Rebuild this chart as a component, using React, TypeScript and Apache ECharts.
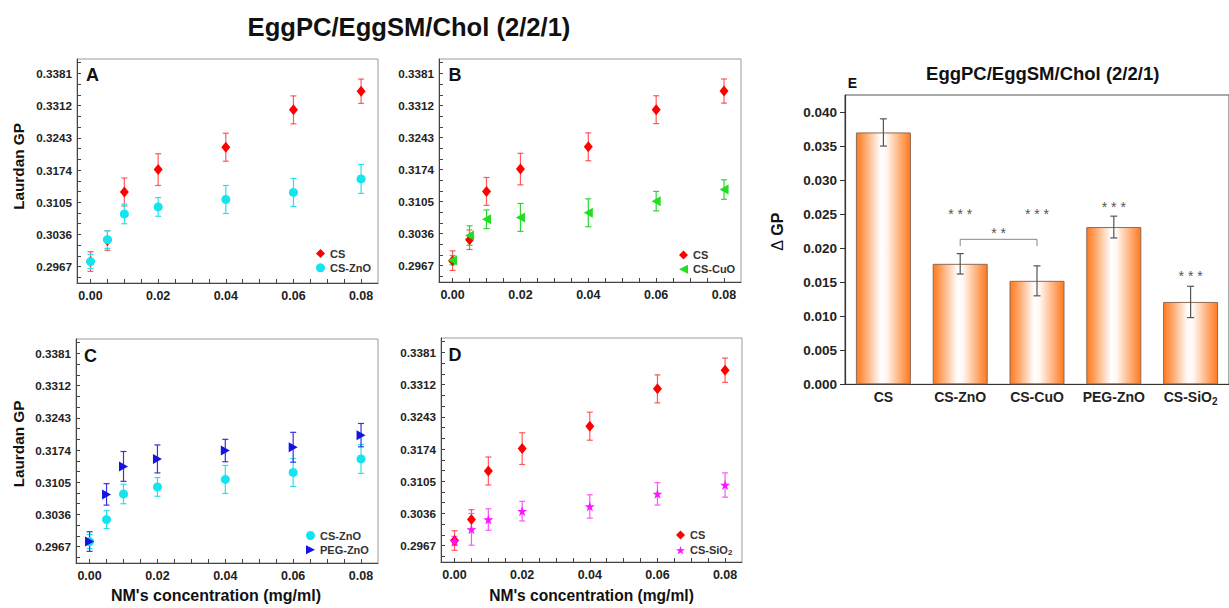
import React, { useEffect, useRef } from 'react';
import * as echarts from 'echarts';

const FONT = "'Liberation Sans', Arial, Helvetica, sans-serif";

// ---------- Panels A–D : Laurdan GP vs NM concentration ----------
const conc = [0, 0.005, 0.01, 0.02, 0.04, 0.06, 0.08];
const csGP = [0.2978, 0.3023, 0.3127, 0.3175, 0.3223, 0.3303, 0.3343];
const csErr = [0.0021, 0.0021, 0.003, 0.0034, 0.003, 0.003, 0.0026];
const csZnoGP = [0.2978, 0.3025, 0.308, 0.3095, 0.3111, 0.3126, 0.3155];
const csZnoErr = [0.0015, 0.0019, 0.0021, 0.002, 0.003, 0.003, 0.0031];
const csCuoGP = [0.2979, 0.3032, 0.3067, 0.3071, 0.3081, 0.3106, 0.3131];
const csCuoErr = [0.001, 0.0021, 0.002, 0.003, 0.003, 0.0021, 0.0021];
const pegZnoGP = [0.2978, 0.3079, 0.3139, 0.3155, 0.3173, 0.318, 0.3206];
const pegZnoErr = [0.0021, 0.0023, 0.0032, 0.003, 0.0024, 0.0032, 0.0025];
const csSio2GP = [0.2977, 0.3002, 0.3023, 0.3041, 0.3051, 0.3078, 0.3097];
const csSio2Err = [0.001, 0.0034, 0.0023, 0.0021, 0.0025, 0.0024, 0.0026];

const gpTicks = [0.2967, 0.3036, 0.3105, 0.3174, 0.3243, 0.3312, 0.3381];
const gpMinorTicks = [0.2944, 0.299, 0.3013, 0.3059, 0.3082, 0.3128, 0.3151, 0.3197, 0.322, 0.3266, 0.3289, 0.3335, 0.3358, 0.3404];
const concTicks = [0, 0.02, 0.04, 0.06, 0.08];
const concMinorTicks = [0.005, 0.01, 0.015, 0.025, 0.03, 0.035, 0.045, 0.05, 0.055, 0.065, 0.07, 0.075];

// ---------- Panel E : ΔGP bars ----------
const barCats = ['CS', 'CS-ZnO', 'CS-CuO', 'PEG-ZnO', 'CS-SiO2'];
const dGP = [0.037, 0.0177, 0.0152, 0.0231, 0.0121];
const dGPErr = [0.002, 0.0015, 0.0022, 0.0016, 0.0023];
const sigMarks = ['', '* * *', '* * *', '* * *', '* * *'];
const sigLevel = [0, 0.0255, 0.0255, 0.0265, 0.0163];
const bracketPairs = [[1, 2]];
const bracketLevel = [0.0213];
const bracketDrop = [0.001];
const bracketMark = ['* *'];
const bracketMarkLevel = [0.0227];
const dGPTicks = [0, 0.005, 0.01, 0.015, 0.02, 0.025, 0.03, 0.035, 0.04];

const X_MIN = -0.004, X_MAX = 0.085, Y_MIN = 0.2932, Y_MAX = 0.3412;

const TRI_LEFT = 'path://M0,50 L100,0 L100,100 Z';
const TRI_RIGHT = 'path://M0,0 L100,50 L0,100 Z';
const STAR = 'path://M50,0 L61.8,35.1 L98.9,35.1 L68.9,56.9 L80.3,91.9 L50,70.2 L19.7,91.9 L31.1,56.9 L1.1,35.1 L38.2,35.1 Z';

const seriesStyle: Record<string, any> = {
  'CS': { color: '#ff0000', err: 'rgba(255,30,30,0.72)', symbol: 'diamond', size: [9, 11] },
  'CS-ZnO': { color: '#14e4ee', err: '#28e2ea', symbol: 'circle', size: 9 },
  'CS-CuO': { color: '#22dd22', err: '#30d630', symbol: TRI_LEFT, size: [9, 10] },
  'PEG-ZnO': { color: '#1414e0', err: '#3434e0', symbol: TRI_RIGHT, size: [9, 10] },
  'CS-SiO2': { color: '#ff14ff', err: '#ff55ff', symbol: STAR, size: 10 },
};

const panels: any[] = [
  { grid: { left: 77, top: 59, width: 301, height: 224 }, sets: [['CS', csGP, csErr], ['CS-ZnO', csZnoGP, csZnoErr]], legend: { left: 316, top: 247 } },
  { grid: { left: 439, top: 59, width: 302, height: 223 }, sets: [['CS', csGP, csErr], ['CS-CuO', csCuoGP, csCuoErr]], legend: { left: 679, top: 248.5 } },
  { grid: { left: 76, top: 339, width: 302, height: 224 }, sets: [['CS-ZnO', csZnoGP, csZnoErr], ['PEG-ZnO', pegZnoGP, pegZnoErr]], legend: { left: 306, top: 529 } },
  { grid: { left: 441, top: 338, width: 301, height: 224 }, sets: [['CS', csGP, csErr], ['CS-SiO2', csSio2GP, csSio2Err]], legend: { left: 676, top: 528.5 } },
];

function errorRenderer(color: string, half: number, width: number) {
  return (params: any, api: any) => {
    const lo = api.coord([api.value(0), api.value(1)]);
    const hi = api.coord([api.value(0), api.value(2)]);
    const style = { stroke: color, lineWidth: width };
    return {
      type: 'group',
      children: [
        { type: 'line', shape: { x1: lo[0], y1: lo[1], x2: hi[0], y2: hi[1] }, style },
        { type: 'line', shape: { x1: lo[0] - half, y1: lo[1], x2: lo[0] + half, y2: lo[1] }, style },
        { type: 'line', shape: { x1: hi[0] - half, y1: hi[1], x2: hi[0] + half, y2: hi[1] }, style },
      ],
    };
  };
}

function buildOption() {
  const grid: any[] = [];
  const xAxis: any[] = [];
  const yAxis: any[] = [];
  const series: any[] = [];
  const legend: any[] = [];
  const allXTicks = [...concTicks, ...concMinorTicks].sort((a, b) => a - b);
  const allYTicks = [...gpTicks, ...gpMinorTicks].sort((a, b) => a - b);

  panels.forEach((p, i) => {
    grid.push({ ...p.grid, show: true, borderColor: '#9a9a9a', borderWidth: 1, backgroundColor: 'transparent' });
    xAxis.push({
      gridIndex: i, type: 'value', position: 'bottom', min: X_MIN, max: X_MAX,
      axisLine: { show: true, onZero: false, lineStyle: { color: '#444', width: 1 } },
      axisTick: { show: true, inside: true, length: 4, customValues: allXTicks, lineStyle: { color: '#444' } },
      axisLabel: { show: true, customValues: concTicks, formatter: (v: number) => v.toFixed(2), fontSize: 12.5, fontWeight: 'bold', color: '#222', margin: 6, fontFamily: FONT },
      splitLine: { show: false },
    });
    yAxis.push({
      gridIndex: i, type: 'value', position: 'left', min: Y_MIN, max: Y_MAX,
      axisLine: { show: true, onZero: false, lineStyle: { color: '#444', width: 1 } },
      axisTick: { show: true, inside: true, length: 4, customValues: allYTicks, lineStyle: { color: '#444' } },
      axisLabel: { show: true, customValues: gpTicks, formatter: (v: number) => v.toFixed(4), fontSize: 11.7, fontWeight: 'bold', color: '#222', margin: 5, fontFamily: FONT },
      splitLine: { show: false },
    });

    p.sets.forEach((s: any) => {
      const [name, vals, errs] = s;
      const st = seriesStyle[name];
      series.push({
        type: 'custom', name: name + ' error', xAxisIndex: i, yAxisIndex: i,
        data: conc.map((x, k) => [x, vals[k] - errs[k], vals[k] + errs[k]]),
        encode: { x: 0, y: [1, 2] },
        renderItem: errorRenderer(st.err, 3, 1.2), silent: true, z: 2,
      });
      series.push({
        type: 'scatter', name, xAxisIndex: i, yAxisIndex: i,
        data: conc.map((x, k) => [x, vals[k]]),
        symbol: st.symbol, symbolSize: st.size, itemStyle: { color: st.color, opacity: 1 },
        silent: true, z: 2,
      });
    });

    legend.push({
      left: p.legend.left, top: p.legend.top, orient: 'vertical', padding: 0, itemGap: 1.3,
      itemWidth: 9, itemHeight: 9, selectedMode: false,
      textStyle: { fontSize: 11, fontWeight: 'bold', color: '#333', lineHeight: 13, fontFamily: FONT,
        rich: { sub: { fontSize: 8, fontWeight: 'bold', color: '#333', lineHeight: 7, verticalAlign: 'bottom', padding: [6, 0, 0, 0], fontFamily: FONT } } },
      formatter: (name: string) => (name === 'CS-SiO2' ? 'CS-SiO{sub|2}' : name),
      data: p.sets.map((s: any) => ({ name: s[0], icon: seriesStyle[s[0]].symbol, itemStyle: { color: seriesStyle[s[0]].color } })),
    });
  });

  // Panel E
  grid.push({ left: 845, top: 95, width: 391, height: 289.3, show: true, borderColor: '#555', borderWidth: 1 });
  xAxis.push({
    gridIndex: 4, type: 'category', data: barCats,
    axisLine: { show: true, lineStyle: { color: '#333', width: 1.2 } },
    axisTick: { show: false },
    axisLabel: {
      interval: 0, hideOverlap: false,
      fontSize: 14, fontWeight: 'bold', color: '#222', margin: 3.4, lineHeight: 19, fontFamily: FONT,
      formatter: (v: string) => (v === 'CS-SiO2' ? 'CS-SiO{sub|2}' : v),
      rich: { sub: { fontSize: 10, fontWeight: 'bold', color: '#222', lineHeight: 10, verticalAlign: 'bottom', padding: [9, 0, 0, 0], fontFamily: FONT } },
    },
  });
  yAxis.push({
    gridIndex: 4, type: 'value', min: 0, max: 0.0425,
    axisLine: { show: true, lineStyle: { color: '#333', width: 1.2 } },
    axisTick: { show: true, inside: false, length: 5, customValues: dGPTicks, lineStyle: { color: '#333' } },
    axisLabel: { customValues: dGPTicks, formatter: (v: number) => v.toFixed(3), fontSize: 13.5, fontWeight: 'bold', color: '#222', margin: 8, fontFamily: FONT },
    splitLine: { show: false },
  });

  series.push({
    type: 'bar', name: 'ΔGP', xAxisIndex: 4, yAxisIndex: 4, data: dGP, barWidth: 55, silent: true,
    itemStyle: {
      color: new echarts.graphic.LinearGradient(0, 0, 1, 0, [
        { offset: 0, color: '#ff7a1f' },
        { offset: 0.12, color: '#ff9a55' },
        { offset: 0.45, color: '#ffffff' },
        { offset: 0.55, color: '#fff8f3' },
        { offset: 0.88, color: '#ff9a55' },
        { offset: 1, color: '#ff7a1f' },
      ]),
      borderColor: '#8d6a52', borderWidth: 1,
    },
  });
  series.push({
    type: 'custom', name: 'ΔGP error', xAxisIndex: 4, yAxisIndex: 4,
    data: dGP.map((v, i) => [i, v - dGPErr[i], v + dGPErr[i]]),
    encode: { x: 0, y: [1, 2] },
    renderItem: errorRenderer('#555', 3.5, 1.2), silent: true, z: 3,
  });
  series.push({
    type: 'custom', name: 'significance', xAxisIndex: 4, yAxisIndex: 4,
    data: barCats.map((c, i) => [i, sigLevel[i]]).filter((d, i) => sigMarks[i] !== ''),
    encode: { x: 0, y: 1 },
    renderItem: (params: any, api: any) => {
      const idx = api.value(0);
      const pt = api.coord([idx, api.value(1)]);
      return { type: 'text', x: pt[0], y: pt[1] + 3, style: { text: sigMarks[idx], align: 'center', verticalAlign: 'middle', fontSize: 14, fill: '#555', fontFamily: FONT } };
    },
    silent: true, z: 3,
  });
  series.push({
    type: 'custom', name: 'bracket', xAxisIndex: 4, yAxisIndex: 4,
    data: bracketPairs.map((pr, k) => [pr[0], pr[1], bracketLevel[k], bracketLevel[k] - bracketDrop[k], bracketMarkLevel[k], k]),
    encode: { x: [0, 1], y: [2, 3] },
    renderItem: (params: any, api: any) => {
      const a = api.coord([api.value(0), api.value(2)]);
      const b = api.coord([api.value(1), api.value(2)]);
      const a2 = api.coord([api.value(0), api.value(3)]);
      const m = api.coord([api.value(0), api.value(4)]);
      const k = api.value(5);
      return {
        type: 'group',
        children: [
          { type: 'polyline', shape: { points: [[a[0], a2[1]], [a[0], a[1]], [b[0], b[1]], [b[0], a2[1]]] }, style: { stroke: '#888', lineWidth: 1, fill: 'none' } },
          { type: 'text', x: (a[0] + b[0]) / 2, y: m[1] + 3, style: { text: bracketMark[k], align: 'center', verticalAlign: 'middle', fontSize: 14, fill: '#555', fontFamily: FONT } },
        ],
      };
    },
    silent: true, z: 3,
  });

  const txt = (x: number, y: number, text: string, size: number, opts: any = {}) => ({
    type: 'text', x, y, rotation: opts.rotation || 0, silent: true,
    style: { text, fontSize: size, fontWeight: opts.weight || 'bold', fontFamily: FONT, fill: opts.fill || '#111',
      align: opts.align || 'center', verticalAlign: 'middle', rich: opts.rich },
  });

  const graphic = [
    txt(409, 27, 'EggPC/EggSM/Chol (2/2/1)', 25.6),
    txt(86, 74.5, 'A', 18, { align: 'left' }),
    txt(448.5, 74.5, 'B', 18, { align: 'left' }),
    txt(84, 355.5, 'C', 18, { align: 'left' }),
    txt(448.5, 354.8, 'D', 18, { align: 'left' }),
    txt(18.5, 166.5, 'Laurdan GP', 15.3, { rotation: Math.PI / 2 }),
    txt(18.5, 444, 'Laurdan GP', 15.3, { rotation: Math.PI / 2 }),
    txt(216, 595, "NM's concentration (mg/ml)", 16),
    txt(591.5, 595, "NM's concentration (mg/ml)", 15.6),
    txt(1042.7, 73.3, 'EggPC/EggSM/Chol (2/2/1)', 18.5),
    txt(847.7, 83.3, 'E', 14, { align: 'left' }),
    txt(777.5, 231.7, '{d|Δ} GP', 16, { rotation: Math.PI / 2, rich: { d: { fontSize: 16, fontWeight: 'normal', fontFamily: FONT, fill: '#111' } } }),
  ];

  return {
    animation: false,
    backgroundColor: '#ffffff',
    textStyle: { fontFamily: FONT },
    grid, xAxis, yAxis, series, legend, graphic,
  };
}

export default function App() {
  const ref = useRef<HTMLDivElement>(null);
  useEffect(() => {
    if (!ref.current) return;
    const chart = echarts.init(ref.current, undefined, { renderer: 'svg' });
    chart.setOption(buildOption() as any);
    return () => chart.dispose();
  }, []);
  return <div ref={ref} style={{ position: 'fixed', left: 0, top: 0, width: 1229, height: 608, background: '#fff' }} />;
}
